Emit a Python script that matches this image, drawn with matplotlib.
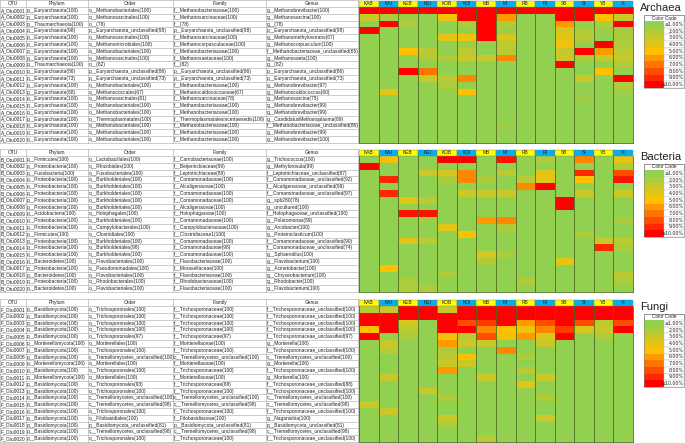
import numpy as np
import matplotlib
matplotlib.use("Agg")
import matplotlib.pyplot as plt
from matplotlib.colors import LinearSegmentedColormap, Normalize
from matplotlib.patches import Rectangle

samples = ["KAB", "KAI", "KEB", "KEI", "KOB", "KOI", "MB", "MI", "RB", "RI", "SB", "SI", "YB", "YI"]
legend_labels = ["≤1.00%", "2.00%", "3.00%", "4.00%", "5.00%", "6.00%", "7.00%", "8.00%", "9.00%", "≥10.00%"]
legend_values = [1, 2, 3, 4, 5, 6, 7, 8, 9, 10]
columns = ["OTU", "Phylum", "Order", "Family", "Genus"]

# ---- Archaea ----
archaea_phylum = ["p__Euryarchaeota(100)", "p__Euryarchaeota(100)", "p__Thaumarchaeota(100)", "p__Euryarchaeota(98)",
                  "p__Euryarchaeota(100)", "p__Euryarchaeota(100)", "p__Euryarchaeota(100)", "p__Euryarchaeota(100)",
                  "p__Thaumarchaeota(100)", "p__Euryarchaeota(86)", "p__Euryarchaeota(73)", "p__Euryarchaeota(100)",
                  "p__Euryarchaeota(68)", "p__Euryarchaeota(100)", "p__Euryarchaeota(100)", "p__Euryarchaeota(100)",
                  "p__Euryarchaeota(100)", "p__Euryarchaeota(100)", "p__Euryarchaeota(100)", "p__Euryarchaeota(100)"]
archaea_order = ["o__Methanobacteriales(100)", "o__Methanosarcinales(100)", "o__(78)", "p__Euryarchaeota_unclassified(98)",
                 "o__Methanosarcinales(100)", "o__Methanomicrobiales(100)", "o__Methanobacteriales(100)", "o__Methanosarcinales(100)",
                 "o__(82)", "p__Euryarchaeota_unclassified(86)", "p__Euryarchaeota_unclassified(73)", "o__Methanobacteriales(100)",
                 "o__Methanococcales(67)", "o__Methanosarcinales(81)", "o__Methanobacteriales(100)", "o__Methanobacteriales(100)",
                 "o__Thermoplasmatales(100)", "o__Methanobacteriales(100)", "o__Methanobacteriales(100)", "o__Methanobacteriales(100)"]
archaea_family = ["f__Methanobacteriaceae(100)", "f__Methanosarcinaceae(100)", "f__(78)", "p__Euryarchaeota_unclassified(98)",
                  "f__Methanosarcinaceae(100)", "f__Methanocorpusculaceae(100)", "f__Methanobacteriaceae(100)", "f__Methanosaetaceae(100)",
                  "f__(82)", "p__Euryarchaeota_unclassified(86)", "p__Euryarchaeota_unclassified(73)", "f__Methanobacteriaceae(100)",
                  "f__Methanocaldococcaceae(67)", "f__Methanosarcinaceae(78)", "f__Methanobacteriaceae(100)", "f__Methanobacteriaceae(100)",
                  "f__Thermoplasmatalesincertaesedis(100)", "f__Methanobacteriaceae(100)", "f__Methanobacteriaceae(100)", "f__Methanobacteriaceae(100)"]
archaea_genus = ["g__Methanobrevibacter(100)", "g__Methanosarcina(100)", "g__(78)", "p__Euryarchaeota_unclassified(98)",
                 "g__Methanomethylovorans(67)", "g__Methanocorpusculum(100)", "f__Methanobacteriaceae_unclassified(65)", "g__Methanosaeta(100)",
                 "g__(82)", "p__Euryarchaeota_unclassified(86)", "p__Euryarchaeota_unclassified(73)", "g__Methanobrevibacter(97)",
                 "g__Methanocaldococcus(60)", "g__Methanosarcina(75)", "g__Methanobrevibacter(99)", "g__Methanobrevibacter(99)",
                 "g__CandidatusMethanoplasma(89)", "f__Methanobacteriaceae_unclassified(86)", "g__Methanobrevibacter(99)", "g__Methanobrevibacter(100)"]
archaea_abund = [
    [10, 10, 10, 10, 10, 10, 10, 10, 10, 10, 10, 10, 10, 10],
    [3, 2, 1.5, 1, 4.5, 10, 10, 6, 1, 1, 10, 10, 5, 3],
    [1, 10, 2, 1, 1, 2, 10, 2, 1, 1, 6, 1, 2, 10],
    [10, 1, 1, 1, 1, 1, 10, 1.5, 1, 1, 3.5, 2, 1.5, 1.5],
    [1, 1, 1, 1, 4, 4.5, 10, 3.5, 1, 1, 4, 2.5, 1, 2],
    [1, 1, 1, 1, 1, 1.5, 1, 2.5, 1, 1, 4.5, 1, 10, 2],
    [1, 1, 5, 2.5, 1, 2.5, 1, 2.5, 1, 1, 3, 10, 6, 2.5],
    [1, 1, 1, 2, 2, 3, 3, 6.5, 1, 1, 3, 2, 3, 3],
    [1, 1, 1, 1, 1, 1, 1, 1, 1, 1, 10, 1, 1, 2],
    [1, 1, 10, 7, 1, 1, 1, 1, 1, 1, 1, 1, 5, 1],
    [1, 1, 1, 3, 2.5, 6.5, 1, 1, 1, 1, 1, 3, 1, 10],
    [1, 1, 1, 1, 2, 1, 1, 1, 1, 1, 1, 1, 1, 2],
    [1, 4, 1, 1, 1, 5, 1, 1, 1, 1, 1, 1, 1, 1.5],
    [1, 1, 1, 1, 1, 1, 1, 1, 1, 1, 1, 1.5, 1, 1],
    [1, 1, 1, 1, 1, 1, 1, 1, 1, 1, 1, 1, 1, 1],
    [1, 1, 1, 1, 1, 1, 1, 1, 1, 1, 1, 1, 1, 1],
    [1, 1, 1, 1, 1, 1, 1, 1, 1, 1, 1, 1, 1, 1],
    [1, 1, 1, 1, 1, 1, 1, 1.5, 1, 1, 1, 1, 1, 1],
    [1, 1, 1, 1, 1, 1, 1, 1, 1, 1, 1, 1, 1, 1],
    [1, 1, 1, 1, 1, 1, 1, 1, 1, 1, 1, 1, 1, 1],
]

# ---- Bacteria ----
bacteria_phylum = ["p__Firmicutes(100)", "p__Proteobacteria(100)", "p__Fusobacteria(100)", "p__Proteobacteria(100)",
                   "p__Proteobacteria(100)", "p__Proteobacteria(100)", "p__Proteobacteria(100)", "p__Proteobacteria(100)",
                   "p__Acidobacteria(100)", "p__Proteobacteria(100)", "p__Proteobacteria(100)", "p__Firmicutes(100)",
                   "p__Proteobacteria(100)", "p__Proteobacteria(100)", "p__Proteobacteria(100)", "p__Bacteroidetes(100)",
                   "p__Proteobacteria(100)", "p__Bacteroidetes(100)", "p__Proteobacteria(100)", "p__Bacteroidetes(100)"]
bacteria_order = ["o__Lactobacillales(100)", "o__Rhizobiales(100)", "o__Fusobacteriales(100)", "o__Burkholderiales(100)",
                  "o__Burkholderiales(100)", "o__Burkholderiales(100)", "o__Burkholderiales(100)", "o__Burkholderiales(100)",
                  "o__Holophagales(100)", "o__Burkholderiales(100)", "o__Campylobacterales(100)", "o__Clostridiales(100)",
                  "o__Burkholderiales(100)", "o__Burkholderiales(98)", "o__Burkholderiales(100)", "o__Flavobacteriales(100)",
                  "o__Pseudomonadales(100)", "o__Flavobacteriales(100)", "o__Rhodobacterales(100)", "o__Flavobacteriales(100)"]
bacteria_family = ["f__Carnobacteriaceae(100)", "f__Beijerinckiaceae(99)", "f__Leptotrichiaceae(89)", "f__Comamonadaceae(100)",
                   "f__Alcaligenaceae(100)", "f__Comamonadaceae(100)", "f__Comamonadaceae(100)", "f__Alcaligenaceae(100)",
                   "f__Holophagaceae(100)", "f__Comamonadaceae(100)", "f__Campylobacteraceae(100)", "f__Clostridiaceae1(100)",
                   "f__Comamonadaceae(100)", "f__Comamonadaceae(98)", "f__Comamonadaceae(100)", "f__Flavobacteriaceae(100)",
                   "f__Moraxellaceae(100)", "f__Flavobacteriaceae(100)", "f__Rhodobacteraceae(100)", "f__Flavobacteriaceae(100)"]
bacteria_genus = ["g__Trichococcus(100)", "g__Methylorosula(99)", "f__Leptotrichiaceae_unclassified(87)", "f__Comamonadaceae_unclassified(92)",
                  "f__Alcaligenaceae_unclassified(99)", "f__Comamonadaceae_unclassified(97)", "g__spb280(78)", "g__uncultured(100)",
                  "f__Holophagaceae_unclassified(100)", "g__Polaromonas(89)", "g__Arcobacter(100)", "g__Proteiniclasticum(100)",
                  "f__Comamonadaceae_unclassified(90)", "f__Comamonadaceae_unclassified(74)", "g__Sphaerotilus(100)", "g__Flavobacterium(100)",
                  "g__Acinetobacter(100)", "g__Chryseobacterium(100)", "g__Rhodobacter(100)", "g__Flavobacterium(100)"]
bacteria_abund = [
    [1, 4.5, 1, 1, 10, 10, 1, 9.5, 1, 2, 1, 6.5, 1, 4],
    [10, 1, 1, 1, 1, 1, 1, 1, 1, 1, 1, 1, 1, 2],
    [1, 1, 1, 3, 3.5, 6.5, 1, 2.5, 1, 4, 1, 9, 1, 8],
    [1, 9, 1, 1, 2, 6.5, 2, 1, 2.5, 4, 1, 5, 1, 9.5],
    [1, 1, 1, 1, 1, 1, 1, 1, 6.5, 10, 1, 1, 1, 1],
    [1, 9, 1, 1, 1, 3, 3, 3, 1, 1, 1, 3, 1, 3],
    [1, 1, 4, 2.5, 1, 1, 1, 1, 1, 1, 10, 1, 1, 1],
    [1, 1, 1, 1, 1, 1, 1, 1, 1, 1, 10, 1, 1, 1],
    [1, 1, 9.5, 9.5, 1, 1, 1, 1, 1, 1, 1, 1, 1, 1],
    [1, 1, 1, 1.5, 1, 1, 6, 6.5, 1, 1, 1, 1, 1, 2],
    [1, 1, 1, 1, 4, 1, 1, 2, 1, 1, 1, 1, 1, 1],
    [1, 1, 1, 1, 1, 5, 1, 1, 1, 1, 1, 2, 1, 1],
    [1, 1, 4, 2.5, 1, 1, 1, 1, 1, 1, 1, 1, 3, 2.5],
    [1, 1, 1, 1, 1, 1, 1, 1, 1, 1, 1, 1, 9, 2],
    [1, 1, 1, 1, 1, 1, 3.5, 2, 1, 1, 1, 1, 1, 1],
    [1, 1, 1, 1, 1, 1, 2, 1, 1, 1, 4, 1, 1, 1],
    [1, 5, 1, 1, 1, 1, 1, 1, 1, 1, 1, 1, 1, 1],
    [1, 1, 1, 1, 2, 1, 1, 1, 1, 1, 1, 1, 1, 2.5],
    [1, 1, 2, 1, 1, 1, 1, 1, 2, 1, 1, 1, 1, 2],
    [1, 1, 2, 2, 1, 1, 1, 1, 1, 1, 1, 1, 1, 1],
]

# ---- Fungi ----
fungi_phylum = ["p__Basidiomycota(100)"] * 5 + ["p__Mortierellomycota(100)", "p__Basidiomycota(100)", "p__Basidiomycota(100)",
                "p__Mortierellomycota(100)", "p__Basidiomycota(100)", "p__Mortierellomycota(100)"] + ["p__Basidiomycota(100)"] * 9
fungi_order = ["o__Trichosporonales(100)"] * 4 + ["o__Trichosporonales(97)", "o__Mortierellales(100)", "o__Trichosporonales(100)",
               "c__Tremellomycetes_unclassified(100)", "o__Mortierellales(100)", "o__Trichosporonales(100)", "o__Mortierellales(100)",
               "o__Trichosporonales(93)", "o__Trichosporonales(100)", "c__Tremellomycetes_unclassified(100)",
               "c__Tremellomycetes_unclassified(98)", "o__Trichosporonales(100)", "o__Filobasidiales(100)",
               "p__Basidiomycota_unclassified(81)", "c__Tremellomycetes_unclassified(98)", "o__Trichosporonales(100)"]
fungi_family = ["f__Trichosporonaceae(100)"] * 4 + ["f__Trichosporonaceae(97)", "f__Mortierellaceae(100)", "f__Trichosporonaceae(100)",
                "c__Tremellomycetes_unclassified(100)", "f__Mortierellaceae(100)", "f__Trichosporonaceae(100)", "f__Mortierellaceae(100)",
                "f__Trichosporonaceae(88)", "f__Trichosporonaceae(100)", "c__Tremellomycetes_unclassified(100)",
                "c__Tremellomycetes_unclassified(98)", "f__Trichosporonaceae(100)", "f__Filobasidiaceae(100)",
                "p__Basidiomycota_unclassified(81)", "c__Tremellomycetes_unclassified(98)", "f__Trichosporonaceae(100)"]
fungi_genus = ["f__Trichosporonaceae_unclassified(100)"] * 4 + ["f__Trichosporonaceae_unclassified(97)", "g__Mortierella(100)",
               "f__Trichosporonaceae_unclassified(100)", "c__Tremellomycetes_unclassified(100)", "g__Mortierella(100)",
               "f__Trichosporonaceae_unclassified(100)", "g__Mortierella(100)", "f__Trichosporonaceae_unclassified(88)",
               "f__Trichosporonaceae_unclassified(100)", "c__Tremellomycetes_unclassified(100)", "c__Tremellomycetes_unclassified(98)",
               "f__Trichosporonaceae_unclassified(100)", "g__Naganishia(100)", "p__Basidiomycota_unclassified(81)",
               "c__Tremellomycetes_unclassified(98)", "f__Trichosporonaceae_unclassified(100)"]
fungi_abund = [
    [2.5, 3, 10, 10, 3, 10, 10, 10, 10, 10, 10, 10, 10, 10],
    [10, 10, 10, 10, 10, 10, 10, 10, 10, 10, 10, 10, 10, 10],
    [10, 10, 3.5, 1, 10, 8, 8.5, 10, 6, 8, 10, 8, 2.5, 8],
    [5, 10, 2.5, 1, 10, 10, 6.5, 5, 4.5, 6.5, 8.5, 3.5, 3, 10],
    [10, 1, 2, 1, 4.5, 2.5, 8, 4.5, 6, 3.5, 10, 1, 2, 1],
    [1, 3, 1, 1, 6, 3, 3, 1, 1, 3, 1, 1, 1, 1],
    [1, 2.5, 1, 1, 2, 1, 1, 6.5, 1, 1, 1, 1, 1, 1],
    [1, 1, 1, 1, 2.5, 5, 1, 1, 2, 1, 1, 1, 1, 1],
    [1, 1, 1, 1, 3, 3, 1, 1, 1, 1, 1, 1, 1, 1],
    [1, 1, 1, 1, 6, 1, 1, 1, 2.5, 1, 1, 1, 1, 1],
    [1, 3, 1, 1, 1, 1, 3, 1, 1, 3, 1, 1, 1, 1],
    [1, 1, 1, 1, 1, 1, 1, 1, 4, 1, 1, 1, 1, 1],
    [1, 1, 1, 3, 1, 1, 1, 1, 1, 1, 1, 1, 1, 1],
    [1, 1, 1, 1, 2, 1, 1, 1, 1, 2, 1, 1, 1, 1],
    [3, 1, 1, 1, 1, 1, 1, 1, 1, 1, 1, 1, 1, 1],
    [1, 3, 1, 1, 1, 1, 1, 1, 1, 1, 1, 1, 1, 1],
    [1, 1, 1, 1, 3, 1, 1, 1, 1, 3, 1, 1, 1, 1],
    [1, 1, 1, 1, 2, 1, 1, 1, 1, 1, 1, 1, 1, 1],
    [1, 1, 1, 1, 1, 1, 1, 1, 1, 1, 1, 1, 1, 1],
    [1, 1, 1, 1, 1, 1, 2.5, 1, 1, 1, 1, 1, 1, 1],
]

panels = [
    ("Archaea", "A", archaea_phylum, archaea_order, archaea_family, archaea_genus, archaea_abund),
    ("Bacteria", "B", bacteria_phylum, bacteria_order, bacteria_family, bacteria_genus, bacteria_abund),
    ("Fungi", "F", fungi_phylum, fungi_order, fungi_family, fungi_genus, fungi_abund),
]

plt.rcParams['font.family'] = ['Liberation Sans Narrow', 'Liberation Sans', 'DejaVu Sans']

# Excel style green - amber - red scale
cmap = LinearSegmentedColormap.from_list(
    "excel", [(0.0, "#92D050"), (4 / 9, "#FFC000"), (1.0, "#FF0000")])
norm = Normalize(vmin=1, vmax=10)

# layout in pixels
W, H = 685, 443
panel_tops = [0, 149, 299]
head_h = 7.0
row_h = 6.8
col_edges = [0, 26, 88, 173, 266, 358.5]
heat_x = np.linspace(359, 633, len(samples) + 1)
grid_col = "#A6A6A6"
fs = 3.5

fig = plt.figure(figsize=(W / 100, H / 100), dpi=100)
ax = fig.add_axes([0, 0, 1, 1])
ax.set_xlim(0, W)
ax.set_ylim(H, 0)
ax.axis("off")

for (name, prefix, phylum, order, family, genus, abund), top in zip(panels, panel_tops):
    n = len(phylum)
    y_rows = top + head_h + np.arange(n + 1) * row_h
    bottom = y_rows[-1]

    # text table
    for x0, x1, lab in zip(col_edges[:-1], col_edges[1:], columns):
        ax.text((x0 + x1) / 2, top + head_h / 2, lab, fontsize=fs, ha="center", va="center", color="#222222")
    otus = [f"{prefix}_Otu{i + 1:04d}" for i in range(n)]
    for i in range(n):
        yc = (y_rows[i] + y_rows[i + 1]) / 2
        for x0, txt in zip(col_edges[:-1], [otus[i], phylum[i], order[i], family[i], genus[i]]):
            ax.text(x0 + 1.0, yc, txt, fontsize=fs, ha="left", va="center", color="#222222")
    for y in [top] + list(y_rows):
        ax.plot([0, col_edges[-1]], [y, y], color=grid_col, lw=0.4)
    for x in col_edges:
        ax.plot([x, x], [top, bottom], color=grid_col, lw=0.4)

    # heatmap
    vals = np.array(abund, dtype=float)
    ax.pcolormesh(heat_x, y_rows, vals, cmap=cmap, norm=norm, shading="flat")
    for j, s in enumerate(samples):
        fc = "#FFFF00" if s.endswith("B") else "#00B0F0"
        ax.add_patch(Rectangle((heat_x[j], top + 0.6), heat_x[j + 1] - heat_x[j], head_h - 0.6,
                               facecolor=fc, edgecolor="#7F7F7F", lw=0.3))
        ax.text((heat_x[j] + heat_x[j + 1]) / 2, top + head_h / 2 + 0.3, s, fontsize=fs,
                ha="center", va="center", color="#222222")
    for x in heat_x:
        ax.plot([x, x], [top + head_h, bottom], color="#4F6B22", lw=0.6)
    ax.plot([heat_x[0], heat_x[-1]], [bottom, bottom], color="#4F6B22", lw=0.6)

    # title and colour key
    ax.text(640, top + 8, name, fontsize=8, ha="left", va="center", color="#222222",
            family=['Liberation Sans', 'DejaVu Sans'])
    lx0, lxm, lx1 = 644, 664, 684.5
    ly0 = top + 15
    key_h = 6.7
    ax.add_patch(Rectangle((lx0, ly0), lx1 - lx0, 6, facecolor="white", edgecolor="#7F7F7F", lw=0.4))
    ax.text((lx0 + lx1) / 2, ly0 + 3, "Color Code", fontsize=3.4, ha="center", va="center", color="#222222")
    key_y = ly0 + 6 + np.arange(len(legend_values) + 1) * key_h
    ax.pcolormesh([lx0, lxm], key_y, np.array(legend_values, dtype=float).reshape(-1, 1),
                  cmap=cmap, norm=norm, shading="flat")
    for k, lab in enumerate(legend_labels):
        ax.add_patch(Rectangle((lxm, key_y[k]), lx1 - lxm, key_h, facecolor="white", edgecolor="#BFBFBF", lw=0.3))
        ax.text(lx1 - 0.8, key_y[k] + key_h / 2, lab, fontsize=3.4, ha="right", va="center", color="#222222",
                family=['Liberation Sans Narrow', 'DejaVu Sans'])
    ax.add_patch(Rectangle((lx0, ly0), lx1 - lx0, key_y[-1] - ly0, facecolor="none", edgecolor="#7F7F7F", lw=0.4))

fig.savefig("out.png", dpi=100)
